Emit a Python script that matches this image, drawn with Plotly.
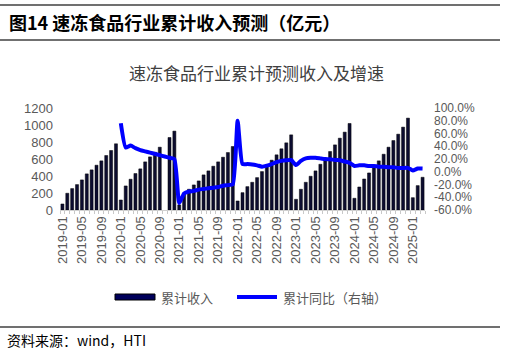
import plotly.graph_objects as go

years = [2019, 2020, 2021, 2022, 2023, 2024, 2025]
months = [f"{y}-{m:02d}" for y in years for m in range(1, 13)][:75]

rev_2019 = [71, 197, 252, 299, 354, 425, 472, 527, 578, 641, 700, 779]
rev_2020 = [118, 283, 362, 429, 484, 566, 625, 680, 739, None, 853, 928]
rev_2021 = [60, 189, 244, 295, 342, 413, 460, 515, 566, 621, 676, 747]
rev_2022 = [106, 204, 275, 326, 381, 452, 519, 586, 649, 720, 790, 884]
rev_2023 = [126, 244, 326, 397, 460, 538, 609, 688, 766, 845, 916, 1018]
rev_2024 = [138, 271, 365, 436, 511, 578, 656, 739, 817, 892, 975, 1081]
rev_2025 = [145, 287, 385]
revenue = rev_2019 + rev_2020 + rev_2021 + rev_2022 + rev_2023 + rev_2024 + rev_2025

yoy_2019 = [None] * 12
yoy_2020 = [76, 38, 41, 37, 34, 32, 30, 28, 26, 24, 22, 20]
yoy_2021 = [-49, -34, -31, -30, -28, -27, -26, -25, -24, -22, -21, -20]
yoy_2022 = [80, 12, 12, 11.5, 10, 8, 9.5, 12, 15, 17, 18, 18.5]
yoy_2023 = [10.5, 17, 21, 22, 22, 21, 20, 19.5, 18.5, 18, 16, 14]
yoy_2024 = [9, 10, 10, 9, 9, 8, 8, 7, 7, 6, 6, 6]
yoy_2025 = [2, 5, 5]
yoy = yoy_2019 + yoy_2020 + yoy_2021 + yoy_2022 + yoy_2023 + yoy_2024 + yoy_2025

series_names = ["累计收入", "累计同比（右轴）"]
left_ticks = [0, 200, 400, 600, 800, 1000, 1200]
right_ticks = [-60, -40, -20, 0, 20, 40, 60, 80, 100]

xidx = list(range(len(months)))
label_idx = xidx[::4]

CJK = "Noto Sans CJK SC"
LAT = "Liberation Sans, Arial"
gray = "#595959"
BAR_COLOR = "#0c0c30"
LINE_COLOR = "#0000ff"

# plot area in pixels
PL, PR, PT, PB = 60, 425, 108, 210
W, H = 506, 353


def px(x):
    return (x - PL) / (PR - PL)


def py(y):
    return (PB - y) / (PB - PT)


fig = go.Figure()
fig.add_trace(go.Bar(
    x=xidx, y=revenue, name=series_names[0],
    marker=dict(color=BAR_COLOR, line=dict(color="#000000", width=0.5)),
    width=0.62,
))
fig.add_trace(go.Scatter(
    x=xidx, y=yoy, name=series_names[1], yaxis="y2",
    mode="lines", line=dict(color=LINE_COLOR, width=4, shape="spline", smoothing=0.5),
))

LEG_Y = 297
fig.update_layout(
    width=W, height=H,
    margin=dict(l=PL, r=W - PR, t=PT, b=H - PB),
    paper_bgcolor="white", plot_bgcolor="white",
    showlegend=False,
    xaxis=dict(
        range=[-0.5, len(months) - 0.5],
        tickmode="array", tickvals=label_idx,
        ticktext=[months[i] for i in label_idx],
        tickangle=-90, tickfont=dict(family=LAT, size=13, color=gray),
        showline=True, linecolor="#d0d0d0", linewidth=1,
        ticks="", showgrid=False, zeroline=False,
        minor=dict(ticks="outside", tickmode="linear", tick0=-0.5, dtick=1,
                   ticklen=3, tickcolor="#c8c8c8", showgrid=False),
    ),
    yaxis=dict(
        range=[0, 1200], tickmode="array", tickvals=left_ticks,
        ticktext=[str(v) for v in left_ticks],
        tickfont=dict(family=LAT, size=13, color=gray),
        ticklabelstandoff=6,
        showgrid=False, zeroline=False, showline=False, ticks="",
    ),
    yaxis2=dict(
        range=[-60, 100], overlaying="y", side="right",
        tickmode="array", tickvals=right_ticks,
        ticktext=[f"{v:.1f}%" for v in right_ticks],
        tickfont=dict(family=LAT, size=12, color=gray),
        ticklabelstandoff=8,
        showgrid=False, zeroline=False, showline=False, ticks="",
    ),
    shapes=[
        dict(type="line", xref="paper", yref="paper", x0=px(0), x1=px(500),
             y0=py(5), y1=py(5), line=dict(color="#404040", width=1.5)),
        dict(type="line", xref="paper", yref="paper", x0=px(0), x1=px(500),
             y0=py(40), y1=py(40), line=dict(color="#404040", width=1.5)),
        dict(type="line", xref="paper", yref="paper", x0=px(0), x1=px(500),
             y0=py(327), y1=py(327), line=dict(color="#404040", width=1.5)),
        # legend swatches
        dict(type="rect", xref="paper", yref="paper", x0=px(115), x1=px(155),
             y0=py(LEG_Y + 3), y1=py(LEG_Y - 3), fillcolor="#00005a",
             line=dict(color="#000000", width=1)),
        dict(type="line", xref="paper", yref="paper", x0=px(237), x1=px(277),
             y0=py(LEG_Y), y1=py(LEG_Y), line=dict(color=LINE_COLOR, width=4)),
    ],
    annotations=[
        dict(text="<b>图14 速冻食品行业累计收入预测（亿元）</b>", xref="paper", yref="paper",
             x=px(7), y=py(22), xanchor="left", yanchor="middle", showarrow=False,
             font=dict(family=CJK, size=18, color="#000000")),
        dict(text="速冻食品行业累计预测收入及增速", xref="paper", yref="paper",
             x=px(256), y=py(72), xanchor="center", yanchor="middle", showarrow=False,
             font=dict(family=CJK, size=17, color="#404040")),
        dict(text="资料来源：wind，HTI", xref="paper", yref="paper",
             x=px(5), y=py(340), xanchor="left", yanchor="middle", showarrow=False,
             font=dict(family=CJK, size=14, color="#000000")),
        dict(text=series_names[0], xref="paper", yref="paper",
             x=px(159), y=py(LEG_Y), xanchor="left", yanchor="middle", showarrow=False,
             font=dict(family=CJK, size=13, color=gray)),
        dict(text=series_names[1], xref="paper", yref="paper",
             x=px(281), y=py(LEG_Y), xanchor="left", yanchor="middle", showarrow=False,
             font=dict(family=CJK, size=13, color=gray)),
    ],
)

fig.write_html("out.html")
